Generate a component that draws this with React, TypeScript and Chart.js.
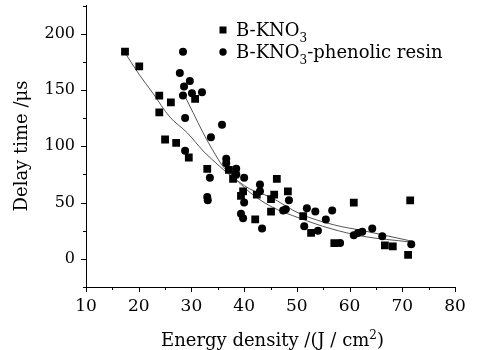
import React, { useEffect, useRef } from "react";
import { Chart, registerables } from "chart.js";

Chart.register(...registerables);

// ---- data ----
const squareX = [17.4, 20.1, 23.9, 26.1, 23.9, 30.7, 25.0, 27.1, 29.5, 33.0, 37.1, 37.9, 38.3, 39.8, 39.4, 42.4, 45.7, 46.2, 45.1, 42.1, 45.1, 48.3, 51.2, 52.7, 60.8, 57.1, 66.7, 68.2, 71.5, 71.1];
const squareY = [184, 171, 145, 139, 130, 142, 106, 103, 90, 80, 79, 71, 75, 60, 56, 57, 57, 71, 53, 35, 42, 60, 38, 23, 50, 14, 12, 11, 52, 3.5];

const circleX = [28.4, 27.8, 29.7, 28.6, 28.4, 30.1, 32.0, 28.8, 35.8, 33.7, 28.8, 36.6, 36.6, 33.5, 33.0, 33.1, 38.5, 38.5, 40.0, 40.0, 39.4, 39.8, 43.0, 43.0, 43.4, 48.5, 47.4, 47.9, 51.9, 53.5, 56.7, 55.5, 51.4, 54.0, 58.2, 60.8, 61.6, 62.4, 64.3, 66.2, 71.7];
const circleY = [184, 165, 158, 153, 145, 147, 148, 125, 119, 108, 96, 89, 85, 72, 55, 52, 80, 75, 72, 50, 40, 36, 66, 60, 27, 52, 43, 44, 45, 42, 43, 35, 29, 25, 14, 21, 23, 24, 27, 20, 13];

const fitSquareX = [17.4, 19.9, 22.7, 25.9, 29.2, 32.2, 35.4, 36.9, 41.1, 44.9, 50.6, 57.2, 62.6, 71.5];
const fitSquareY = [183, 165, 147, 126, 112, 96, 82, 76, 62, 55, 40, 30, 25, 16];

const fitCircleX = [28.6, 30.3, 32.2, 34.1, 36.0, 37.9, 41.1, 44.9, 50.6, 56.3, 62.6, 71.5];
const fitCircleY = [146, 130, 112, 96, 82, 73, 59, 47, 36, 27, 20, 15];

const xTickValues = [10, 20, 30, 40, 50, 60, 70, 80];
const yTickValues = [0, 50, 100, 150, 200];

const legendMain = ["B-KNO", "B-KNO"];
const legendSub = ["3", "3"];
const legendTail = ["", "-phenolic resin"];

const xTitleMain = "Energy density /(J / cm";
const xTitleSup = "2";
const xTitleEnd = ")";
const yTitle = "Delay time /\u03bcs";

const X_MIN = 10;
const X_MAX = 80;
const Y_MIN = -25;
const Y_MAX = 225;

const FONT = '"DejaVu Serif", serif';

const zip = (xs: number[], ys: number[]) => xs.map((x, i) => ({ x, y: ys[i] }));

const decorPlugin = {
  id: "decor",
  afterDraw(chart: any) {
    const ctx = chart.ctx as CanvasRenderingContext2D;
    const xs = chart.scales.x;
    const ys = chart.scales.y;
    const ca = chart.chartArea;
    ctx.save();
    ctx.strokeStyle = "#000";
    ctx.lineWidth = 1;
    ctx.beginPath();
    for (let v = X_MIN; v <= X_MAX; v += 5) {
      const px = Math.round(xs.getPixelForValue(v)) + 0.5;
      const len = v % 10 === 0 ? 5 : 3;
      ctx.moveTo(px, ca.bottom);
      ctx.lineTo(px, ca.bottom + len);
    }
    for (let v = Y_MIN; v <= Y_MAX; v += 25) {
      const py = Math.round(ys.getPixelForValue(v)) + 0.5;
      const len = v % 50 === 0 ? 5 : 3;
      ctx.moveTo(ca.left, py);
      ctx.lineTo(ca.left - len, py);
    }
    ctx.stroke();

    ctx.fillStyle = "#000";
    ctx.textBaseline = "alphabetic";

    // x title with superscript
    ctx.font = `18px ${FONT}`;
    const w1 = ctx.measureText(xTitleMain).width;
    const w3 = ctx.measureText(xTitleEnd).width;
    ctx.font = `12px ${FONT}`;
    const w2 = ctx.measureText(xTitleSup).width;
    const total = w1 + w2 + w3;
    const cx = (ca.left + ca.right) / 2 + 2;
    let tx = cx - total / 2;
    const by = 346;
    ctx.textAlign = "left";
    ctx.font = `18px ${FONT}`;
    ctx.fillText(xTitleMain, tx, by);
    tx += w1;
    ctx.font = `12px ${FONT}`;
    ctx.fillText(xTitleSup, tx, by - 7);
    tx += w2;
    ctx.font = `18px ${FONT}`;
    ctx.fillText(xTitleEnd, tx, by);

    // y title
    ctx.save();
    ctx.translate(27, 146);
    ctx.rotate(-Math.PI / 2);
    ctx.textAlign = "center";
    ctx.font = `18px ${FONT}`;
    ctx.fillText(yTitle, 0, 0);
    ctx.restore();

    // legend
    const lx = 223;
    const baselines = [36, 58];
    for (let i = 0; i < legendMain.length; i++) {
      const b = baselines[i];
      const my = b - 6;
      if (i === 0) {
        ctx.fillRect(lx - 3.5, my - 3.5, 7, 7);
      } else {
        ctx.beginPath();
        ctx.arc(lx, my, 3.7, 0, Math.PI * 2);
        ctx.fill();
      }
      let x = 236;
      ctx.textAlign = "left";
      ctx.font = `18px ${FONT}`;
      ctx.fillText(legendMain[i], x, b);
      x += ctx.measureText(legendMain[i]).width;
      ctx.font = `12px ${FONT}`;
      ctx.fillText(legendSub[i], x, b + 6);
      x += ctx.measureText(legendSub[i]).width;
      ctx.font = `18px ${FONT}`;
      ctx.fillText(legendTail[i], x, b);
    }
    ctx.restore();
  },
};

export default function App() {
  const ref = useRef<HTMLCanvasElement | null>(null);
  useEffect(() => {
    if (!ref.current) return;
    const chart = new Chart(ref.current, {
      type: "scatter",
      data: {
        datasets: [
          {
            label: "B-KNO3",
            data: zip(squareX, squareY),
            pointStyle: "rect",
            pointRadius: 5.5,
            backgroundColor: "#000",
            borderColor: "#000",
            borderWidth: 0,
            order: 1,
          },
          {
            label: "B-KNO3-phenolic resin",
            data: zip(circleX, circleY),
            pointStyle: "circle",
            pointRadius: 4,
            backgroundColor: "#000",
            borderColor: "#000",
            borderWidth: 0,
            order: 1,
          },
          {
            label: "fit1",
            data: zip(fitSquareX, fitSquareY),
            showLine: true,
            pointRadius: 0,
            borderColor: "#555",
            borderWidth: 1,
            tension: 0.4,
            cubicInterpolationMode: "monotone",
            order: 2,
          },
          {
            label: "fit2",
            data: zip(fitCircleX, fitCircleY),
            showLine: true,
            pointRadius: 0,
            borderColor: "#555",
            borderWidth: 1,
            tension: 0.4,
            cubicInterpolationMode: "monotone",
            order: 2,
          },
        ],
      } as any,
      options: {
        animation: false,
        responsive: false,
        devicePixelRatio: 1,
        layout: { padding: { left: 0, top: 5, right: 25, bottom: 0 } },
        plugins: {
          legend: { display: false },
          tooltip: { enabled: false },
        },
        scales: {
          x: {
            type: "linear",
            min: X_MIN,
            max: X_MAX,
            grid: { display: false, drawTicks: false },
            border: { display: true, color: "#000", width: 1 },
            ticks: {
              color: "#000",
              font: { family: FONT, size: 17 },
              padding: 9,
              maxRotation: 0,
            },
            afterBuildTicks: (s: any) => {
              s.ticks = xTickValues.map((v) => ({ value: v }));
            },
            afterFit: (s: any) => {
              s.height = 63;
              s.paddingLeft = 0;
              s.paddingRight = 0;
            },
          },
          y: {
            type: "linear",
            min: Y_MIN,
            max: Y_MAX,
            grid: { display: false, drawTicks: false },
            border: { display: true, color: "#000", width: 1 },
            ticks: {
              color: "#000",
              font: { family: FONT, size: 16 },
              padding: 11,
            },
            afterBuildTicks: (s: any) => {
              s.ticks = yTickValues.map((v) => ({ value: v }));
            },
            afterFit: (s: any) => {
              s.width = 86;
              s.paddingTop = 0;
              s.paddingBottom = 0;
            },
          },
        },
      } as any,
      plugins: [decorPlugin],
    });
    return () => chart.destroy();
  }, []);
  return (
    <div style={{ position: "fixed", left: 0, top: 0, width: 480, height: 350, background: "#fff" }}>
      <canvas ref={ref} width={480} height={350} />
    </div>
  );
}
